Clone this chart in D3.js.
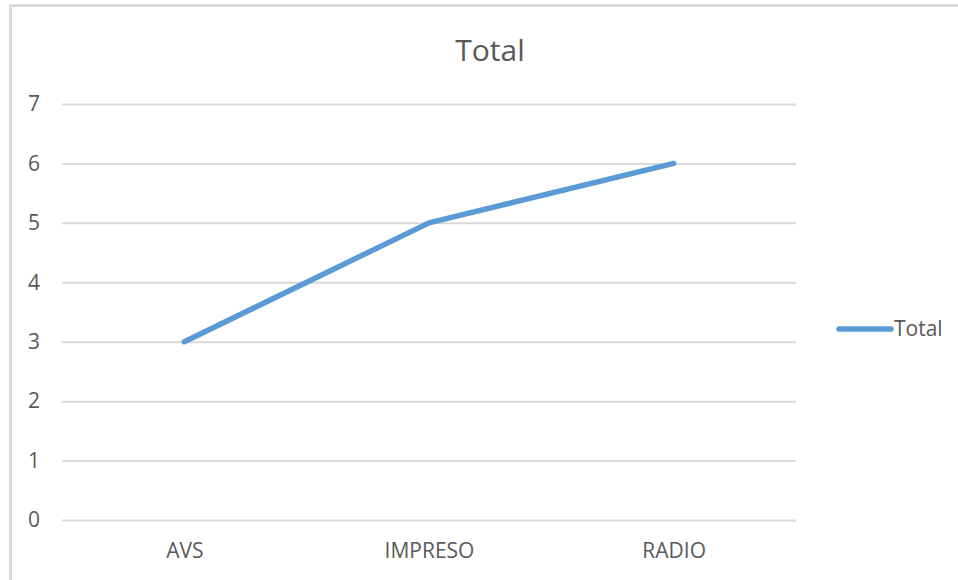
<!DOCTYPE html>
<html><head><meta charset="utf-8">
<script src="https://cdn.jsdelivr.net/npm/d3@7"></script>
<style>body{margin:0;background:#fff}svg{display:block}text{font-family:"Open Sans","Noto Sans",sans-serif;fill:#595959}</style>
</head><body><svg id="c" width="958" height="580"></svg>
<script>
const categories = ["AVS", "IMPRESO", "RADIO"];
const values = [3, 5, 6];
const yTicks = [0, 1, 2, 3, 4, 5, 6, 7];
const seriesName = "Total";
const title = "Total";

const svg = d3.select("#c");
svg.append("rect").attr("x", 10.5).attr("y", 5.5).attr("width", 1000).attr("height", 1000)
  .attr("fill", "#fff").attr("stroke", "#d9d9d9").attr("stroke-width", 3);

const x = d3.scalePoint().domain(categories).range([62, 796]).padding(0.5);
const y = d3.scaleLinear().domain([0, 7]).range([520, 104]);

svg.append("text").attr("x", 490).attr("y", 61).attr("text-anchor", "middle")
  .style("font-size", "30px").text(title);

const gy = svg.append("g").attr("transform", "translate(62,0)")
  .call(d3.axisLeft(y).tickValues(yTicks).tickSize(-734).tickPadding(22).tickFormat(d3.format("d")));
gy.select(".domain").remove();
gy.selectAll(".tick line").attr("stroke", "#d9d9d9").attr("stroke-width", 2);
gy.selectAll(".tick text").style("font-size", "21px").attr("fill", "#595959");

const gx = svg.append("g").attr("transform", "translate(0,520)")
  .call(d3.axisBottom(x).tickSize(0).tickPadding(23));
gx.select(".domain").remove();
gx.selectAll(".tick text").style("font-size", "21px").attr("fill", "#595959");

const line = d3.line().x((d, i) => x(categories[i])).y(d => y(d));
svg.append("path").datum(values).attr("d", line).attr("fill", "none")
  .attr("stroke", "#5b9bd5").attr("stroke-width", 5.5).attr("stroke-linecap", "round").attr("stroke-linejoin", "round");

const lg = svg.append("g").attr("transform", "translate(0,329)");
lg.append("line").attr("x1", 839).attr("x2", 891).attr("y1", 0).attr("y2", 0)
  .attr("stroke", "#5b9bd5").attr("stroke-width", 5.5).attr("stroke-linecap", "round");
lg.append("text").attr("x", 894).attr("y", 7).style("font-size", "21px").text(seriesName);
</script></body></html>
